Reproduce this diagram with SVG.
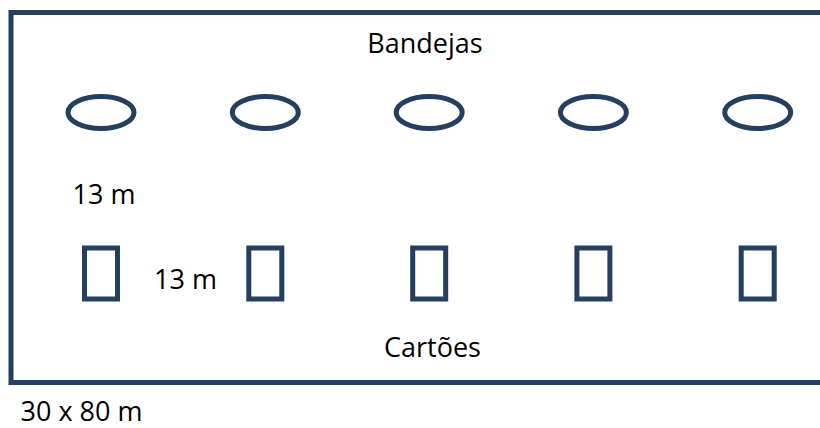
<svg xmlns="http://www.w3.org/2000/svg" width="820" height="428" viewBox="0 0 820 428">
<style>
.s{fill:none;stroke:#243F60;stroke-width:5}
.t{font-family:"Open Sans","Liberation Sans",sans-serif;font-size:27px;fill:#000}
</style>
<rect width="820" height="428" fill="#fff"/>
<g id="area"><rect class="s" x="11" y="12.5" width="830" height="370"/></g>
<g id="bandejas">
<ellipse class="s" cx="101" cy="112.5" rx="33" ry="16"/>
<ellipse class="s" cx="265.3" cy="112.5" rx="33" ry="16"/>
<ellipse class="s" cx="429.2" cy="112.5" rx="33" ry="16"/>
<ellipse class="s" cx="593.4" cy="112.5" rx="33" ry="16"/>
<ellipse class="s" cx="757.7" cy="112.5" rx="33" ry="16"/>
</g>
<g id="cartoes">
<rect class="s" x="84.5" y="248" width="33" height="51"/>
<rect class="s" x="248.8" y="248" width="33" height="51"/>
<rect class="s" x="412.7" y="248" width="33" height="51"/>
<rect class="s" x="576.9" y="248" width="33" height="51"/>
<rect class="s" x="741.2" y="248" width="33" height="51"/>
</g>
<g id="labels">
<text class="t" x="425" y="52.5" text-anchor="middle">Bandejas</text>
<text class="t" x="432.5" y="356.5" text-anchor="middle">Cartões</text>
<text class="t" x="72.5" y="203.5">13 m</text>
<text class="t" x="154" y="288.5">13 m</text>
<text class="t" x="20.5" y="421">30 x 80 m</text>
</g>
</svg>
